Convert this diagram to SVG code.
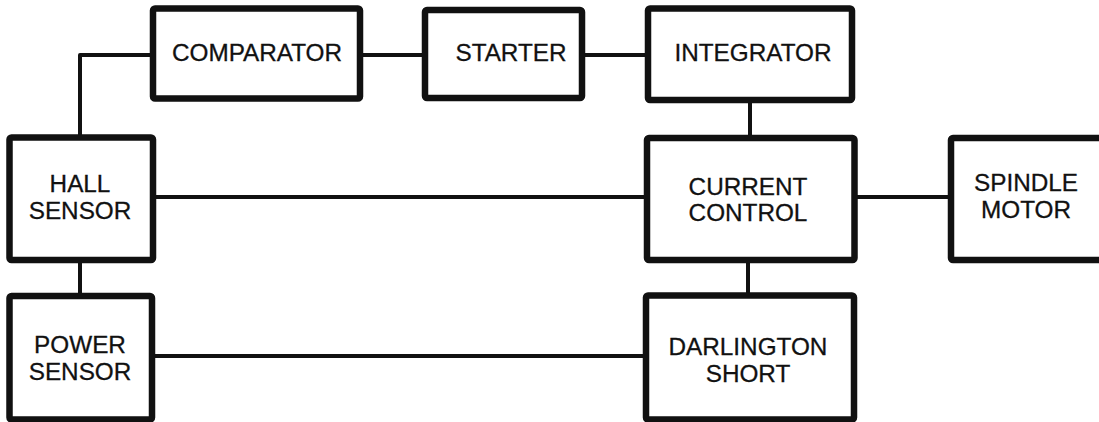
<svg xmlns="http://www.w3.org/2000/svg" width="1099" height="422" viewBox="0 0 1099 422">
<style>
.box{fill:#fff;stroke:#111;stroke-width:6.5;stroke-linejoin:round}
.ln{fill:none;stroke:#111;stroke-width:4;stroke-linejoin:round}
text{font-family:"Liberation Sans",Arial,Helvetica,sans-serif;font-size:24.3px;fill:#111;text-anchor:middle;stroke:#111;stroke-width:0.3}
</style>
<rect width="1099" height="422" fill="#fff"/>
<g id="connectors">
<polyline class="ln" points="153,55 80,55 80,137"/>
<line class="ln" x1="360" y1="55" x2="425" y2="55"/>
<line class="ln" x1="582" y1="55" x2="648" y2="55"/>
<line class="ln" x1="750" y1="100" x2="750" y2="138"/>
<line class="ln" x1="80" y1="260" x2="80" y2="296"/>
<line class="ln" x1="153" y1="197" x2="647" y2="197"/>
<line class="ln" x1="152" y1="356" x2="646" y2="356"/>
<line class="ln" x1="854" y1="197" x2="951" y2="197"/>
<line class="ln" x1="748" y1="260" x2="748" y2="296"/>
</g>
<g id="comparator"><rect class="box" x="153" y="8.5" width="207" height="90" rx="2"/><text x="257" y="61">COMPARATOR</text></g>
<g id="starter"><rect class="box" x="425" y="10" width="157" height="88" rx="2"/><text x="511" y="61">STARTER</text></g>
<g id="integrator"><rect class="box" x="648" y="8.5" width="204" height="91.5" rx="2"/><text x="753" y="61">INTEGRATOR</text></g>
<g id="hall"><rect class="box" x="9.5" y="137.5" width="143.5" height="122.5" rx="2"/><text x="80" y="192">HALL</text><text x="80" y="218.5">SENSOR</text></g>
<g id="power"><rect class="box" x="9.5" y="296" width="142.5" height="123.5" rx="2"/><text x="80" y="353">POWER</text><text x="80" y="380">SENSOR</text></g>
<g id="current"><rect class="box" x="647" y="138" width="207.5" height="122" rx="2"/><text x="748" y="195">CURRENT</text><text x="748" y="221">CONTROL</text></g>
<g id="darlington"><rect class="box" x="646" y="295.5" width="208" height="124" rx="2"/><text x="748" y="355">DARLINGTON</text><text x="748" y="381.5">SHORT</text></g>
<g id="spindle"><rect class="box" x="951" y="138" width="165" height="122" rx="2"/><text x="1026" y="191">SPINDLE</text><text x="1026" y="217.5">MOTOR</text></g>
</svg>
